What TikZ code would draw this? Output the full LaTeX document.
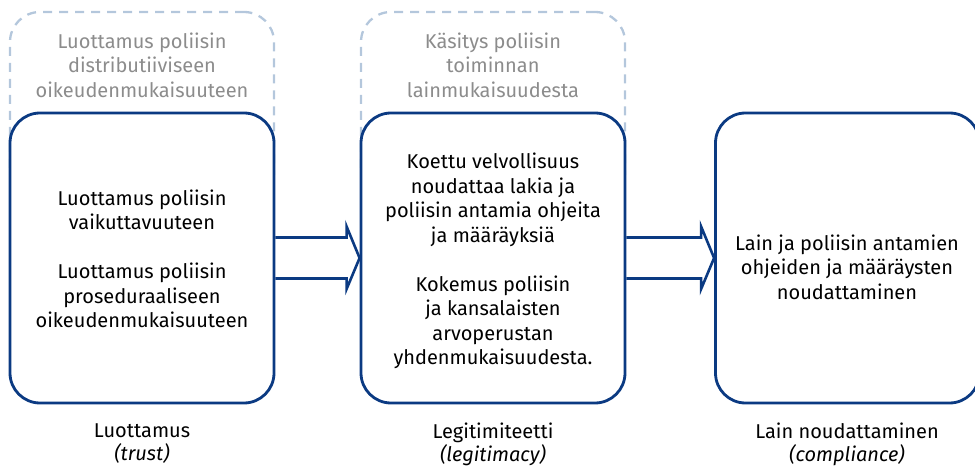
\documentclass[tikz,border=0pt]{standalone}
\usepackage{fontspec}
\setmainfont{Fira Sans}
\usetikzlibrary{calc}
\definecolor{navy}{HTML}{0B3A82}
\definecolor{dashblue}{HTML}{B4C7DC}
\definecolor{greytext}{HTML}{8C8C8C}
\begin{document}
\begin{tikzpicture}[x=1pt,y=-1pt,
  mainbox/.style={draw=navy,line width=2.8pt,fill=white,rounded corners=30pt,minimum width=264pt,minimum height=290pt,inner sep=0pt},
  dashbox/.style={draw=dashblue,line width=2.3pt,dash pattern=on 9pt off 7pt,rounded corners=30pt,minimum width=264pt,minimum height=190pt,inner sep=0pt},
  boxtext/.style={align=center,font=\fontsize{20}{24.5}\selectfont,text=black},
  greylabel/.style={align=center,font=\fontsize{20}{24.5}\selectfont,text=greytext},
  caption/.style={align=center,font=\fontsize{20}{23}\selectfont,text=black},
  arrowline/.style={draw=navy,line width=2.6pt,line join=miter}
]
\useasboundingbox (0,0) rectangle (975,468);
% dashed boxes
\node[dashbox] (d1) at (142,107) {};
\node[dashbox] (d2) at (493,107) {};
\node[greylabel] (g1) at (142,65) {Luottamus poliisin\\distributiiviseen\\oikeudenmukaisuuteen};
\node[greylabel] (g2) at (493,65) {Käsitys poliisin\\toiminnan\\lainmukaisuudesta};
% main boxes
\node[mainbox] (b1) at (142,258) {};
\node[mainbox] (b2) at (493,258) {};
\node[mainbox] (b3) at (847.5,258) {};
\node[boxtext] (t1) at (142,259) {Luottamus poliisin\\vaikuttavuuteen\\[24.5pt]Luottamus poliisin\\proseduraaliseen\\oikeudenmukaisuuteen};
\node[boxtext] (t2) at (493,261) {Koettu velvollisuus\\noudattaa lakia ja\\poliisin antamia ohjeita\\ja määräyksiä\\[24.5pt]Kokemus poliisin\\ja kansalaisten\\arvoperustan\\yhdenmukaisuudesta.};
\node[boxtext] (t3) at (847,267) {Lain ja poliisin antamien\\ohjeiden ja määräysten\\noudattaminen};
% arrows
\draw[arrowline] ($(b1.east)+(0,-20.5)$) -- ($(b2.west)+(-13,-20.5)$) -- ++(0,-11) -- (b2.west)
  -- ($(b2.west)+(-13,31)$) -- ++(0,-10.5) -- ($(b1.east)+(0,20.5)$);
\draw[arrowline] ($(b2.east)+(0,-20.5)$) -- ($(b3.west)+(-13,-20.5)$) -- ++(0,-11) -- (b3.west)
  -- ($(b3.west)+(-13,31)$) -- ++(0,-10.5) -- ($(b2.east)+(0,20.5)$);
% captions
\node[caption] (c1) at (142,444) {Luottamus\\\textit{(trust)}};
\node[caption] (c2) at (493,444) {Legitimiteetti\\\textit{(legitimacy)}};
\node[caption] (c3) at (847,444) {Lain noudattaminen\\\textit{(compliance)}};
\end{tikzpicture}
\end{document}
